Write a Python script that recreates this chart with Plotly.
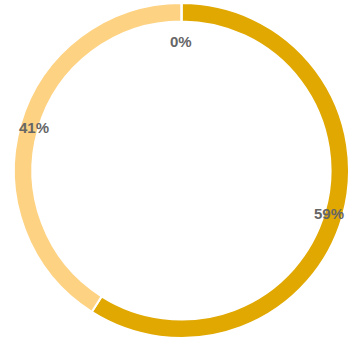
import math
import plotly.graph_objects as go

# ---- data ----
categories = ["A", "B", "C"]
values = [59, 41, 0]
colors = ["#E0A800", "#FDD282", "#F5B700"]

# ---- layout constants (pixels) ----
W, H = 350, 343
CX, CY, R = 181.5, 170.5, 167.5
HOLE = 0.89

fig = go.Figure(go.Pie(
    labels=categories,
    values=values,
    sort=False,
    direction="clockwise",
    rotation=0,
    hole=HOLE,
    marker=dict(colors=colors, line=dict(color="#FFFFFF", width=2)),
    textinfo="none",
    hoverinfo="label+percent",
    showlegend=False,
    domain=dict(x=[(CX - R) / W, (CX + R) / W],
                y=[1 - (CY + R) / H, 1 - (CY - R) / H]),
))

# percentage labels placed at slice mid-angles computed from the data
total = sum(values)
cum = 0.0
annotations = []
for v in values:
    frac = v / total
    mid = (cum + frac / 2) * 2 * math.pi
    cum += frac
    r_lab = R * 0.915 if v > 0 else R * 0.77
    x = CX + r_lab * math.sin(mid)
    y = CY - r_lab * math.cos(mid)
    annotations.append(dict(
        x=x / W, y=1 - y / H, xref="paper", yref="paper",
        text=f"{round(frac * 100)}%", showarrow=False,
        font=dict(family="Liberation Sans, Arial, sans-serif", size=15,
                  color="#666666", weight="bold"),
        xanchor="center", yanchor="middle",
    ))

fig.update_layout(
    width=W, height=H,
    margin=dict(l=0, r=0, t=0, b=0),
    paper_bgcolor="#FFFFFF",
    plot_bgcolor="#FFFFFF",
    annotations=annotations,
)

fig.write_html(
    "out.html",
    config={"displayModeBar": False},
    post_script="document.body.style.margin='0';document.body.style.overflow='hidden';",
)
